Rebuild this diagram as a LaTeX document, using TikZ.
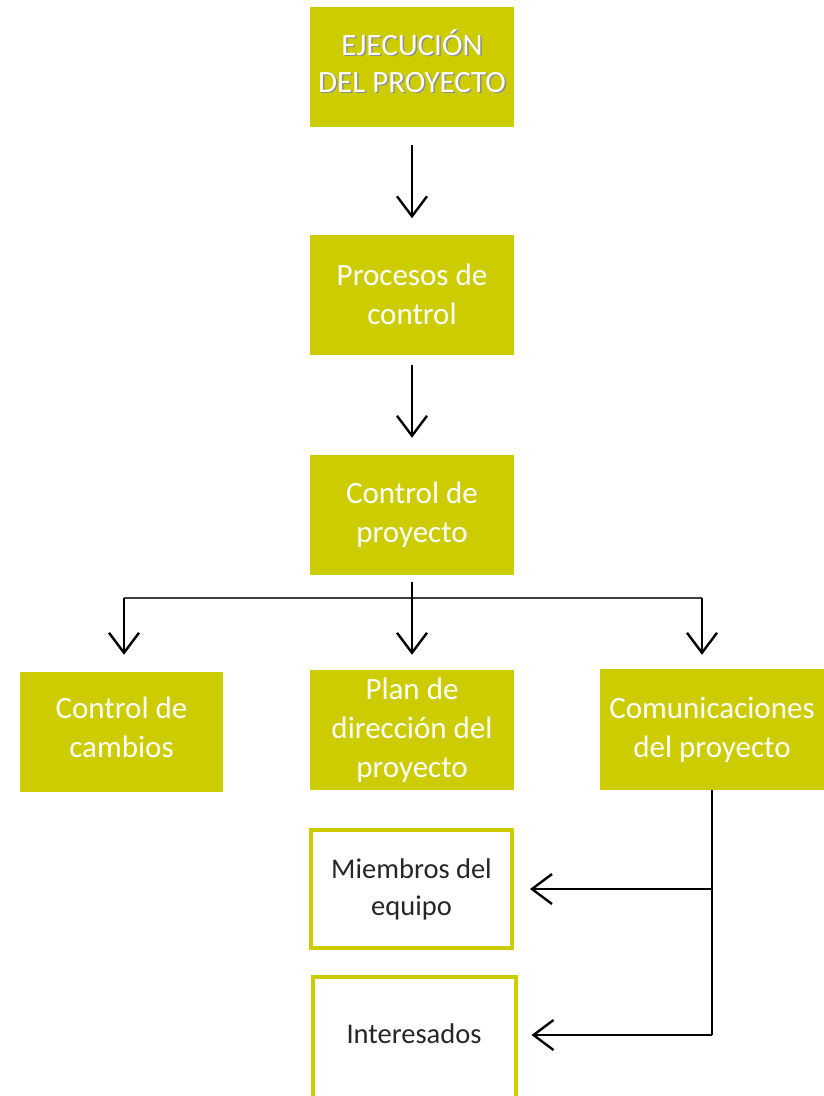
\documentclass[tikz,border=0pt]{standalone}
\usepackage{fontspec}
\setmainfont{Carlito}
\usetikzlibrary{arrows.meta, positioning}
\definecolor{oliva}{RGB}{204,204,0}
\tikzset{caja/.style={fill=oliva, text=white, minimum width=204pt, minimum height=120pt,
        align=center, inner sep=0pt, font=\fontsize{31}{39}\selectfont},
    hueca/.style={draw=oliva, line width=4pt, fill=white, text=black!85, minimum width=201pt,
        minimum height=118pt, align=center, inner sep=0pt, font=\fontsize{28.5}{37}\selectfont},
    titulo/.style={align=center, inner sep=0pt, font=\fontsize{31}{37}\selectfont},
    flecha/.style={-{Straight Barb[length=20pt,width=30pt]}, line width=2.4pt},
    linea/.style={line width=1.5pt}}

\begin{document}
\begin{tikzpicture}[x=1pt,y=-1pt]
\useasboundingbox (0,0) rectangle (824,1096);
% column of boxes
\node[caja] (ejec) at (412,67) {};
\node[titulo, text=black!45] (sombra) at (413.5,62.5) {EJECUCIÓN\\DEL PROYECTO};
\node[titulo, text=white] (titulo) at (412,61) {EJECUCIÓN\\DEL PROYECTO};
\node[caja] (procesos) at (412,294.5) {Procesos de\\control};
\node[caja] (proy) at (412,515) {Control de\\proyecto};
% second row
\node[caja, minimum width=203pt] (cambios) at (121.5,732) {};
\node[font=\fontsize{31}{39}\selectfont, text=white, align=center] (cambiostxt) at (121.5,727) {Control de\\cambios};
\node[caja] (plan) at (412,730) {Plan de\\dirección del\\proyecto};
\node[caja, minimum width=224pt, minimum height=121pt] (comun) at (712,729.5) {Comunicaciones\\del proyecto};
% receivers
\node[hueca] (miembros) at (411.5,889) {Miembros del\\equipo};
\node[hueca, minimum width=203pt, minimum height=121pt] (interes) at (414,1037.5) {};
\node[font=\fontsize{28.5}{37}\selectfont, text=black!85] (interestxt) at (414,1034) {Interesados};
% arrows down the middle
\draw[flecha, shorten <=18pt, shorten >=16pt] (ejec) -- (procesos);
\draw[flecha, shorten <=10pt, shorten >=17pt] (procesos) -- (proy);
% branch
\coordinate (izq) at (124,598);
\coordinate (der) at (702,598);
\draw[linea, black!75] (izq) -- (der);
\draw[flecha, shorten <=7pt, shorten >=15pt] (proy) -- (plan);
\draw[flecha, shorten >=17pt] (izq) -- (izq |- cambios.north);
\draw[flecha, shorten >=14pt] (der) -- (der |- comun.north);
% feedback on the right
\coordinate (bajada) at (712,1035);
\draw[linea] (comun.south) -- (bajada);
\draw[flecha, shorten >=16pt] (miembros.east -| bajada) -- (miembros.east);
\draw[flecha, shorten >=14pt] (bajada) -- (bajada -| interes.east);
\end{tikzpicture}
\end{document}
